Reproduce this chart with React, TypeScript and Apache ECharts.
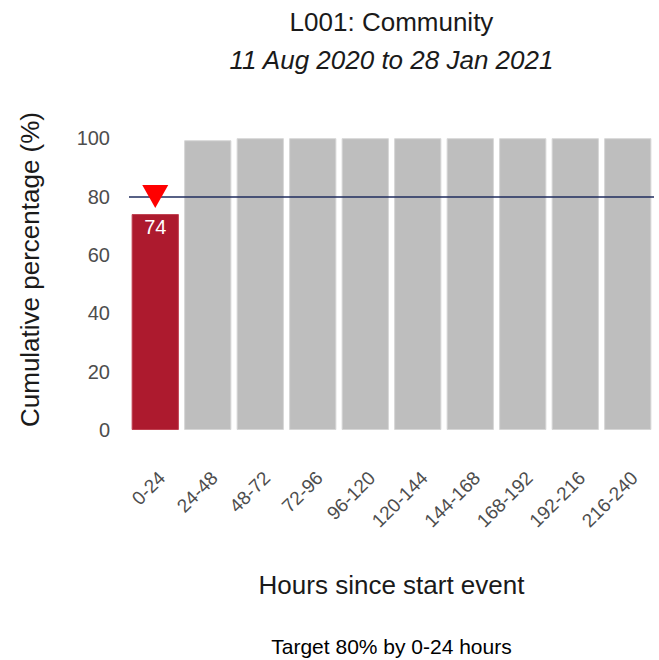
import React, { useEffect, useRef } from "react";
import * as echarts from "echarts";

const categories = ["0-24", "24-48", "48-72", "72-96", "96-120", "120-144", "144-168", "168-192", "192-216", "216-240"];
const cumulativePct = [74, 99.3, 100, 100, 100, 100, 100, 100, 100, 100];
const targetPct = 80;
const targetCategory = "0-24";
const yTicks = [0, 20, 40, 60, 80, 100];
const titleText = "L001: Community";
const subtitleText = "11 Aug 2020 to 28 Jan 2021";
const captionText = "Target 80% by 0-24 hours";

const FONT = '"Liberation Sans", Arial, sans-serif';

export default function App() {
  const ref = useRef<HTMLDivElement>(null);
  useEffect(() => {
    if (!ref.current) return;
    const chart = echarts.init(ref.current, null, { renderer: "svg" });
    const gridLeft = 129;
    const gridRight = 5;
    const cx = (gridLeft + (659 - gridRight)) / 2;
    chart.setOption({
      animation: false,
      textStyle: { fontFamily: FONT },
      grid: { left: gridLeft, right: gridRight, top: 109, bottom: 230, containLabel: false },
      graphic: [
        { type: "text", style: { x: cx, y: 22, text: titleText, textAlign: "center", textVerticalAlign: "middle", font: `26px ${FONT}`, fill: "#1a1a1a" } },
        { type: "text", style: { x: cx, y: 60, text: subtitleText, textAlign: "center", textVerticalAlign: "middle", font: `italic 26px ${FONT}`, fill: "#1a1a1a" } },
        { type: "text", style: { x: cx, y: 646, text: captionText, textAlign: "center", textVerticalAlign: "middle", font: `21px ${FONT}`, fill: "#000" } },
      ],
      xAxis: {
        type: "category",
        data: categories,
        axisLine: { show: false },
        axisTick: { show: false },
        axisLabel: {
          rotate: 45,
          color: "#4d4d4d",
          fontSize: 19,
          margin: 38,
          interval: 0,
          align: "right",
          verticalAlign: "top",
          fontFamily: FONT,
        },
        name: "Hours since start event",
        nameLocation: "middle",
        nameGap: 142,
        nameTextStyle: { fontSize: 26, color: "#1a1a1a", fontFamily: FONT },
      },
      yAxis: {
        type: "value",
        min: 0,
        max: 110,
        interval: 20,
        splitLine: { show: false },
        axisLine: { show: false },
        axisTick: { show: false },
        axisLabel: {
          color: "#4d4d4d",
          fontSize: 20,
          margin: 19,
          fontFamily: FONT,
          formatter: (v: number) => (yTicks.includes(v) ? String(v) : ""),
        },
        name: "Cumulative percentage (%)",
        nameLocation: "middle",
        nameGap: 86,
        nameTextStyle: { fontSize: 26, color: "#1a1a1a", fontFamily: FONT },
      },
      series: [
        {
          type: "bar",
          barWidth: "90%",
          data: cumulativePct.map((v, i) => ({
            value: v,
            itemStyle: { color: i === 0 ? "#ad1a2e" : "#bebebe", borderColor: i === 0 ? "#c04050" : "#d6d6d6", borderWidth: 1 },
            label: i === 0
              ? { show: true, position: "insideTop", distance: 3, color: "#ffffff", fontSize: 20, fontFamily: FONT }
              : { show: false },
          })),
          markLine: {
            silent: true,
            symbol: "none",
            label: { show: false },
            lineStyle: { color: "#1f2d5e", width: 1.5, type: "solid" },
            data: [{ yAxis: targetPct }],
          },
          z: 2,
        },
        {
          type: "scatter",
          data: [[targetCategory, targetPct]],
          symbol: "triangle",
          symbolRotate: 180,
          symbolSize: [26, 23],
          itemStyle: { color: "#ff0000", opacity: 1 },
          z: 5,
        },
      ],
    });
    return () => chart.dispose();
  }, []);
  return <div ref={ref} style={{ position: "fixed", left: 0, top: 0, width: 659, height: 660, background: "#fff" }} />;
}
